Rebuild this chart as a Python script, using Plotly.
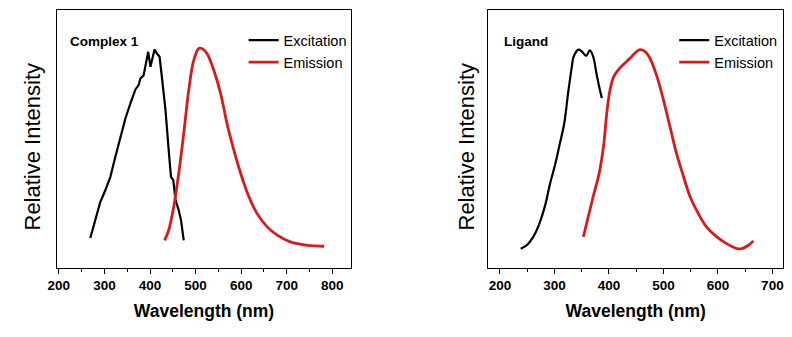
import plotly.graph_objects as go

# ---------------- data (normalised intensity) ----------------
c1_exc_nm = [269, 280, 291, 302, 313, 324, 335, 346, 357, 368, 375, 379, 386, 391, 396,
             401, 406, 410, 415, 421, 426, 434, 441, 446, 451, 456, 463, 468, 474]
c1_exc_int = [0.042, 0.13, 0.224, 0.283, 0.351, 0.452, 0.553, 0.646, 0.722, 0.793, 0.815,
              0.848, 0.865, 0.916, 0.983, 0.907, 0.966, 0.995, 0.975, 0.958, 0.857, 0.688,
              0.486, 0.351, 0.334, 0.233, 0.182, 0.132, 0.030]

c1_em_nm = [432, 441, 452, 463, 474, 485, 496, 507, 514, 525, 540, 555, 569, 584, 599,
            617, 635, 657, 679, 708, 745, 782]
c1_em_int = [0.03, 0.081, 0.199, 0.368, 0.57, 0.789, 0.941, 1.0, 1.0, 0.975, 0.89, 0.772,
             0.62, 0.486, 0.368, 0.25, 0.165, 0.098, 0.056, 0.022, 0.005, 0.0]

lig_exc_nm = [238, 249, 261, 270, 283, 292, 301, 310, 318, 325, 332, 335, 344, 350, 358,
              365, 371, 377, 382, 387]
lig_exc_int = [0.0, 0.017, 0.059, 0.109, 0.218, 0.327, 0.419, 0.528, 0.628, 0.779, 0.913,
               0.96, 0.997, 0.988, 0.966, 0.993, 0.963, 0.879, 0.812, 0.754]

lig_em_nm = [353, 362, 371, 382, 390, 396, 402, 409, 417, 426, 439, 448, 457, 466, 475,
             488, 500, 512, 524, 537, 549, 564, 579, 598, 616, 635, 644, 656, 665]
lig_em_int = [0.059, 0.159, 0.26, 0.377, 0.511, 0.678, 0.796, 0.863, 0.896, 0.921, 0.955,
              0.98, 0.997, 0.988, 0.955, 0.863, 0.745, 0.611, 0.477, 0.36, 0.26, 0.176,
              0.109, 0.059, 0.025, 0.0, 0.0, 0.017, 0.039]

panel_labels = ["Complex 1", "Ligand"]
series_names = ["Excitation", "Emission"]
x_title = "Wavelength (nm)"
y_title = "Relative Intensity"
tick_vals_left = [200, 300, 400, 500, 600, 700, 800]
tick_vals_right = [200, 300, 400, 500, 600, 700]

BLACK = "#000000"
RED = "#d41c1c"
FONT = "Liberation Sans, Arial, sans-serif"

fig = go.Figure()

fig.add_trace(go.Scatter(x=c1_exc_nm, y=c1_exc_int, mode="lines", name=series_names[0],
                         line=dict(color=BLACK, width=2.2), xaxis="x", yaxis="y", legend="legend"))
fig.add_trace(go.Scatter(x=c1_em_nm, y=c1_em_int, mode="lines", name=series_names[1],
                         line=dict(color=RED, width=2.8, shape="spline"), xaxis="x", yaxis="y",
                         legend="legend"))
fig.add_trace(go.Scatter(x=lig_exc_nm, y=lig_exc_int, mode="lines", name=series_names[0],
                         line=dict(color=BLACK, width=2.2, shape="spline"), xaxis="x2", yaxis="y2",
                         legend="legend2"))
fig.add_trace(go.Scatter(x=lig_em_nm, y=lig_em_int, mode="lines", name=series_names[1],
                         line=dict(color=RED, width=2.8, shape="spline"), xaxis="x2", yaxis="y2",
                         legend="legend2"))

ydom = [0.2047, 0.9718]

def xaxis(domain, rng, ticks, anchor):
    return dict(domain=domain, range=rng, anchor=anchor, tickvals=ticks, automargin=False,
                ticks="outside", ticklen=5, tickwidth=1, tickcolor=BLACK,
                minor=dict(ticks="outside", ticklen=3, dtick=50, tick0=250, tickcolor=BLACK),
                showline=True, linecolor=BLACK, linewidth=1, mirror=True,
                showgrid=False, zeroline=False,
                tickfont=dict(family=FONT, size=13.5, color=BLACK, weight="bold"),
                title=dict(text=x_title, standoff=12,
                           font=dict(family=FONT, size=17.5, color=BLACK, weight="bold")))

def yaxis(rng, anchor):
    return dict(domain=ydom, range=rng, anchor=anchor, showticklabels=False, ticks="",
                automargin=False,
                showline=True, linecolor=BLACK, linewidth=1, mirror=True,
                showgrid=False, zeroline=False)

legend_common = dict(bgcolor="rgba(0,0,0,0)", borderwidth=0, tracegroupgap=0,
                     font=dict(family=FONT, size=14.5, color=BLACK),
                     xanchor="left", yanchor="top", itemwidth=30)

def ytitle(xpx):
    return dict(text=y_title, xref="paper", yref="paper", x=xpx / 792, y=1 - 146.5 / 337,
                xanchor="center", yanchor="middle", textangle=-90, showarrow=False,
                font=dict(family=FONT, size=22, color=BLACK))

fig.update_layout(
    width=792, height=337,
    margin=dict(l=0, r=0, t=0, b=0, autoexpand=False),
    paper_bgcolor="white", plot_bgcolor="white",
    font=dict(family=FONT, color=BLACK),
    xaxis=xaxis([0.0720, 0.4432], [196, 841], tick_vals_left, "y"),
    yaxis=yaxis([-0.110, 1.197], "x"),
    xaxis2=xaxis([0.6165, 0.989], [178.5, 720], tick_vals_right, "y2"),
    yaxis2=yaxis([-0.097, 1.198], "x2"),
    legend=dict(x=0.3076, y=0.928, **legend_common),
    legend2=dict(x=0.8513, y=0.928, **legend_common),
    showlegend=True,
    annotations=[
        dict(text=panel_labels[0], xref="paper", yref="paper", x=68 / 792, y=1 - 42 / 337,
             xanchor="left", yanchor="middle", showarrow=False,
             font=dict(family=FONT, size=13.5, color=BLACK, weight="bold")),
        dict(text=panel_labels[1], xref="paper", yref="paper", x=502 / 792, y=1 - 42 / 337,
             xanchor="left", yanchor="middle", showarrow=False,
             font=dict(family=FONT, size=13.5, color=BLACK, weight="bold")),
        ytitle(32),
        ytitle(466),
    ],
)

fig.write_html("out.html", config={"displayModeBar": False},
               post_script="document.body.style.margin='0';")
